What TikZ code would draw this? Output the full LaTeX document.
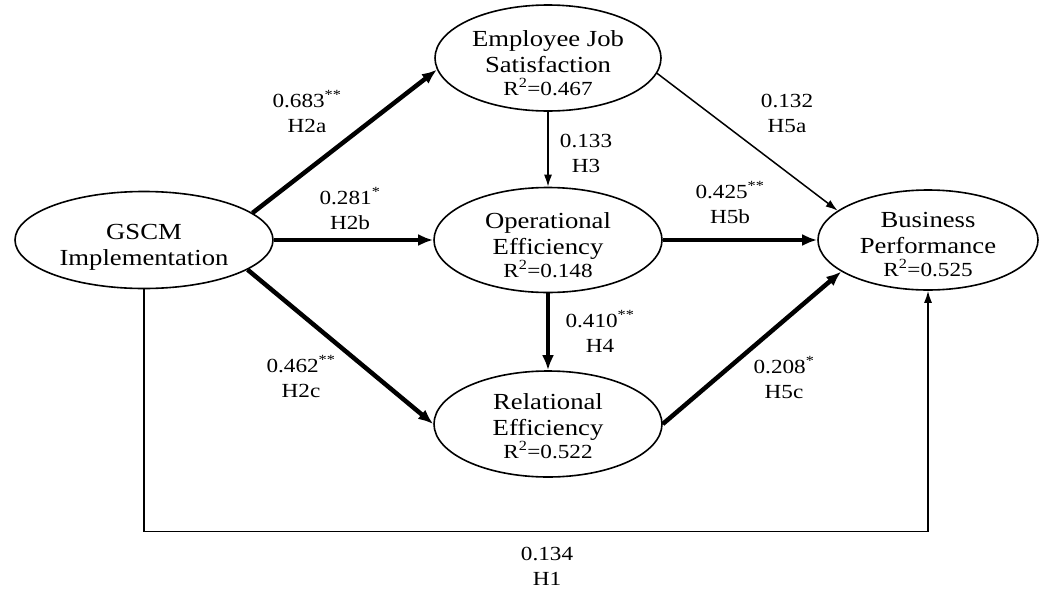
\documentclass[tikz,border=0pt]{standalone}
\usepackage{fontspec}
\setmainfont[FakeStretch=1.16]{Liberation Serif}
\usetikzlibrary{arrows.meta,shapes.geometric}
\newcommand\ttlfont{\fontsize{23}{26}\selectfont}
\newcommand\rsqfont{\fontsize{20}{23}\selectfont}
\newcommand\lblfont{\fontsize{20}{25}\selectfont}
\tikzset{
  construct/.style={draw, ellipse, line width=1.6pt, inner sep=0pt},
  txt/.style={anchor=base, align=center, inner sep=0pt, font=\ttlfont},
  coef/.style={anchor=base, align=center, inner sep=0pt, font=\lblfont},
  thickarrow/.style={line width=4.5pt, -{Latex[length=15pt,width=12pt]}},
  thinarrow/.style={line width=1.5pt, -{Latex[length=12pt,width=8pt]}}
}
\begin{document}
\begin{tikzpicture}[x=1pt,y=1pt]
\useasboundingbox (0,0) rectangle (1046,-589);
% constructs
\node[construct, minimum width=258, minimum height=97] (gscm) at (144,-240) {};
\node[construct, minimum width=226, minimum height=106] (ejs) at (548,-58) {};
\node[construct, minimum width=228, minimum height=105] (oe) at (548,-240) {};
\node[construct, minimum width=228, minimum height=106] (re) at (548,-424) {};
\node[construct, minimum width=220, minimum height=100] (bp) at (928,-240) {};
% construct texts (anchor base = last line)
\node[txt] (gscmT) at (144,-265) {GSCM\\Implementation};
\node[txt] (ejsT) at (548,-95) {Employee Job\\Satisfaction\\[-3pt]{\rsqfont R\textsuperscript{2}=0.467}};
\node[txt] (oeT) at (548,-277) {Operational\\Efficiency\\[-3pt]{\rsqfont R\textsuperscript{2}=0.148}};
\node[txt] (reT) at (548,-458) {Relational\\Efficiency\\[-3pt]{\rsqfont R\textsuperscript{2}=0.522}};
\node[txt] (bpT) at (928,-276) {Business\\Performance\\[-3pt]{\rsqfont R\textsuperscript{2}=0.525}};
% connectors
\draw[thickarrow] (gscm.14) -- (ejs.186);
\draw[thickarrow] (gscm.east) -- (oe.west);
\draw[thickarrow] (gscm.-16) -- (re.west);
\draw[thinarrow] (ejs.-8) -- (bp.162);
\draw[thinarrow] (ejs.south) -- (oe.north);
\draw[thickarrow] (oe.east) -- (bp.west);
\draw[thickarrow] (oe.south) -- (re.north);
\draw[thickarrow] (re.east) -- (bp.200);
\draw[thinarrow] (gscm.south) -- ++(0,-242) -| (bp.south);
% coefficients (anchor base = last line)
\node[coef] (c2a) at (307,-132) {0.683\textsuperscript{**}\\H2a};
\node[coef] (c2b) at (350,-229) {0.281\textsuperscript{*}\\H2b};
\node[coef] (c2c) at (301,-397) {0.462\textsuperscript{**}\\H2c};
\node[coef] (c3) at (586,-172) {0.133\\H3};
\node[coef] (c5a) at (787,-132) {0.132\\H5a};
\node[coef] (c5b) at (730,-223) {0.425\textsuperscript{**}\\H5b};
\node[coef] (c4) at (600,-352) {0.410\textsuperscript{**}\\H4};
\node[coef] (c5c) at (784,-398) {0.208\textsuperscript{*}\\H5c};
\node[coef] (c1) at (547,-585) {0.134\\H1};
\end{tikzpicture}
\end{document}
